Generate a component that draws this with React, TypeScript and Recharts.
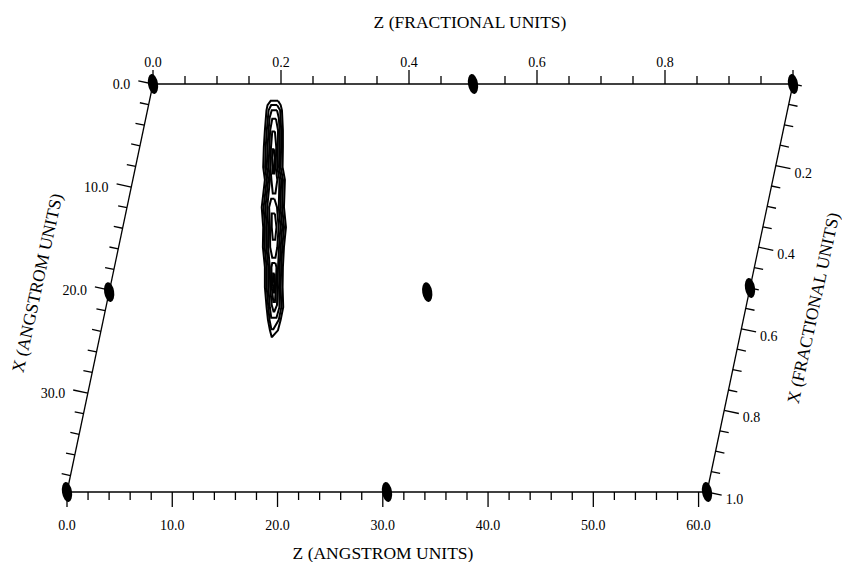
import React from 'react'
import { ScatterChart, Scatter, XAxis, YAxis } from 'recharts'

// cell geometry (angstrom)
const CELL_C = 60.8
const CELL_A = 39.6
const SKEW = 8.17
const VERT = 38.75

const zAngTicks = [0, 2, 4, 6, 8, 10, 12, 14, 16, 18, 20, 22, 24, 26, 28, 30, 32, 34, 36, 38, 40, 42, 44, 46, 48, 50, 52, 54, 56, 58, 60]
const zAngMajor = [0, 10, 20, 30, 40, 50, 60]
const zFracTicks = [0, 0.05, 0.1, 0.15, 0.2, 0.25, 0.3, 0.35, 0.4, 0.45, 0.5, 0.55, 0.6, 0.65, 0.7, 0.75, 0.8, 0.85, 0.9, 0.95, 1.0]
const zFracMajor = [0, 0.2, 0.4, 0.6, 0.8, 1.0]
const zFracLabels = ['0.0', '0.2', '0.4', '0.6', '0.8', '']
const xAngTicks = [0, 2, 4, 6, 8, 10, 12, 14, 16, 18, 20, 22, 24, 26, 28, 30, 32, 34, 36, 38]
const xAngMajor = [0, 10, 20, 30]
const xFracTicks = [0, 0.05, 0.1, 0.15, 0.2, 0.25, 0.3, 0.35, 0.4, 0.45, 0.5, 0.55, 0.6, 0.65, 0.7, 0.75, 0.8, 0.85, 0.9, 0.95, 1.0]
const xFracMajor = [0.2, 0.4, 0.6, 0.8, 1.0]

// atoms (fractional x, fractional z)
const atomX = [0, 0, 0, 0.51, 0.51, 0.5, 1, 1, 1]
const atomZ = [0, 0.5, 1, 0, 0.497, 1, 0, 0.5, 1]

// contour levels: [depth w, left u, right u] in map angstrom
const contour1: number[][] = [
  [1.6, 19.35, 20.05], [2.0, 19.05, 20.3], [2.5, 18.95, 20.42], [4.4, 18.8, 20.51],
  [6.0, 18.7, 20.51], [7.9, 18.64, 20.48], [9.1, 18.8, 20.7], [11.7, 18.5, 20.61],
  [13.6, 18.64, 20.8], [15.5, 18.61, 20.61], [17.4, 18.8, 20.51], [19.3, 18.8, 20.48],
  [21.2, 18.96, 20.54], [22.4, 19.09, 20.3], [23.4, 19.28, 20.04], [24.0, 19.44, 19.5],
]
const contour2: number[][] = [
  [2.0, 19.4, 19.95], [2.5, 19.15, 20.25], [4.4, 18.98, 20.35], [6.0, 18.88, 20.34],
  [7.9, 18.82, 20.3], [9.1, 18.97, 20.52], [11.7, 18.68, 20.44], [13.6, 18.8, 20.62],
  [15.5, 18.78, 20.45], [17.4, 18.96, 20.35], [19.3, 18.97, 20.3], [21.2, 19.12, 20.36],
  [22.4, 19.24, 20.12], [23.3, 19.42, 19.6],
]
const contour3: number[][] = [
  [2.5, 19.45, 19.95], [3.2, 19.25, 20.12], [4.4, 19.15, 20.2], [6.0, 19.05, 20.18],
  [7.9, 18.98, 20.14], [9.1, 19.12, 20.35], [11.7, 18.85, 20.28], [13.6, 18.96, 20.45],
  [15.5, 18.95, 20.3], [17.4, 19.12, 20.2], [19.3, 19.13, 20.14], [21.2, 19.27, 20.18],
  [22.2, 19.4, 19.9],
]
const contour4: number[][] = [
  [3.3, 19.5, 19.85], [4.4, 19.3, 20.05], [6.0, 19.22, 20.02], [7.9, 19.15, 19.98],
  [9.1, 19.28, 20.18], [11.7, 19.02, 20.12], [13.6, 19.12, 20.28], [15.5, 19.1, 20.14],
  [17.4, 19.27, 20.05], [19.3, 19.3, 19.98], [21.0, 19.45, 19.95], [21.6, 19.62, 19.7],
]
const contour5a: number[][] = [[4.5, 19.5, 19.75], [6.0, 19.38, 19.88], [7.9, 19.32, 19.82], [9.1, 19.42, 19.98], [10.4, 19.55, 19.8]]
const contour5b: number[][] = [[10.9, 19.4, 19.7], [11.7, 19.2, 19.95], [13.6, 19.28, 20.1], [15.5, 19.3, 19.98], [16.5, 19.5, 19.8]]
const contour5c: number[][] = [[17.0, 19.5, 19.8], [17.4, 19.42, 19.9], [19.3, 19.45, 19.85], [20.7, 19.6, 19.75]]
const contour6a: number[][] = [[6.2, 19.55, 19.7], [7.0, 19.48, 19.72], [8.5, 19.55, 19.68]]
const contour6b: number[][] = [[12.3, 19.45, 19.75], [13.6, 19.45, 19.9], [14.8, 19.55, 19.78]]
const contour6c: number[][] = [[18.0, 19.58, 19.72], [19.0, 19.56, 19.76], [19.8, 19.63, 19.7]]
const contours = [contour1, contour2, contour3, contour4, contour5a, contour5b, contour5c, contour6a, contour6b, contour6c]

const serif = "'Liberation Serif', 'Times New Roman', serif"

const toU = (xf: number, zf: number) => zf * CELL_C + (1 - xf) * SKEW
const toW = (xf: number) => xf * VERT

const ring = (rows: number[][]) => {
  const right = rows.map(([w, , r]) => ({ u: r, w }))
  const left = rows.slice().reverse().map(([w, l]) => ({ u: l, w }))
  return [...right, ...left, right[0]]
}

const frameTop = [{ zf: 0, w: 0 }, { zf: 1, w: 0 }]
const frameBottom = [{ u: toU(1, 0), w: VERT }, { u: toU(1, 1), w: VERT }]
const frameLeft = [{ u: toU(0, 0), w: 0 }, { u: toU(1, 0), w: VERT }]
const frameRight = [{ u: toU(0, 1), w: 0 }, { u: toU(1, 1), w: VERT }]

const leftTickData = xAngTicks.map((s) => ({ u: toU(s / CELL_A, 0), w: toW(s / CELL_A), s }))
const rightTickData = xFracTicks.map((f) => ({ u: toU(f, 1), w: toW(f), f }))
const atomData = atomX.map((x, i) => ({ u: toU(x, atomZ[i]), w: toW(x) }))

const titles = [
  { u: toU(0, 0.5), w: 0, text: 'Z (FRACTIONAL UNITS)', dx: -3, dy: -62, rot: 0 },
  { u: toU(1, 0.5), w: VERT, text: 'Z (ANGSTROM UNITS)', dx: -4, dy: 61, rot: 0 },
  { u: toU(0.5, 0), w: toW(0.5), text: 'X (ANGSTROM UNITS)', dx: -73, dy: -5, rot: -77.6 },
  { u: toU(0.5, 1), w: toW(0.5), text: 'X (FRACTIONAL UNITS)', dx: 63, dy: 20, rot: -77.8 },
]

const Empty = () => <g />

const BottomTick = (props: any) => {
  const { x, y, payload } = props
  const v = payload.value
  const major = zAngMajor.includes(v)
  return (
    <g>
      <line x1={x} y1={y} x2={x} y2={y + (major ? 15 : 8)} stroke="#000" strokeWidth={1.3} />
      {major && (
        <text x={x} y={y + 38} textAnchor="middle" fontFamily={serif} fontSize={14} fill="#000">
          {v.toFixed(1)}
        </text>
      )}
    </g>
  )
}

const TopTick = (props: any) => {
  const { x, y, payload } = props
  const idx = zFracMajor.findIndex((m) => Math.abs(m - payload.value) < 1e-6)
  const major = idx >= 0
  return (
    <g>
      <line x1={x} y1={y} x2={x} y2={y - (major ? 14 : 8)} stroke="#000" strokeWidth={1.3} />
      {major && zFracLabels[idx] && (
        <text x={x} y={y - 17} textAnchor="middle" fontFamily={serif} fontSize={14} fill="#000">
          {zFracLabels[idx]}
        </text>
      )}
    </g>
  )
}

const LeftTick = (props: any) => {
  const { cx, cy, payload } = props
  const major = xAngMajor.includes(payload.s)
  const len = major ? 15 : 9
  const ex = cx - len * 0.978
  const ey = cy - len * 0.206
  return (
    <g>
      <line x1={cx} y1={cy} x2={ex} y2={ey} stroke="#000" strokeWidth={1.3} />
      {major && (
        <text x={ex - 8} y={cy + 5} textAnchor="end" fontFamily={serif} fontSize={14} fill="#000">
          {payload.s.toFixed(1)}
        </text>
      )}
    </g>
  )
}

const RightTick = (props: any) => {
  const { cx, cy, payload } = props
  const major = xFracMajor.some((m) => Math.abs(m - payload.f) < 1e-6)
  const len = major ? 15 : 9
  const ex = cx + len * 0.978
  const ey = cy + len * 0.206
  return (
    <g>
      <line x1={cx} y1={cy} x2={ex} y2={ey} stroke="#000" strokeWidth={1.3} />
      {major && (
        <text x={ex + 4} y={ey + 9} textAnchor="start" fontFamily={serif} fontSize={14} fill="#000">
          {payload.f.toFixed(1)}
        </text>
      )}
    </g>
  )
}

const Atom = (props: any) => {
  const { cx, cy } = props
  return <ellipse cx={cx} cy={cy} rx={5} ry={10} fill="#000" transform={`rotate(-9 ${cx} ${cy})`} />
}

const Title = (props: any) => {
  const { cx, cy, payload } = props
  const x = cx + payload.dx
  const y = cy + payload.dy
  return (
    <text
      x={x}
      y={y}
      dy="0.35em"
      textAnchor="middle"
      fontFamily={serif}
      fontSize={17.5}
      fill="#000"
      transform={payload.rot ? `rotate(${payload.rot} ${x} ${y})` : undefined}
    >
      {payload.text}
    </text>
  )
}

const lineStyle = { stroke: '#000', strokeWidth: 1.3 }

export default function App() {
  return (
    <div style={{ position: 'absolute', left: 0, top: 0, width: 842, height: 562, background: '#fff' }}>
      <ScatterChart width={842} height={562} margin={{ top: 54, right: 49, bottom: 40, left: 67 }}>
        <XAxis
          xAxisId="b"
          dataKey="u"
          type="number"
          domain={[0, SKEW + CELL_C]}
          ticks={zAngTicks}
          interval={0}
          tick={BottomTick}
          tickSize={0}
          tickMargin={0}
          axisLine={false}
          tickLine={false}
        />
        <XAxis
          xAxisId="t"
          orientation="top"
          dataKey="zf"
          type="number"
          domain={[-SKEW / CELL_C, 1]}
          ticks={zFracTicks}
          interval={0}
          tick={TopTick}
          tickSize={0}
          tickMargin={0}
          axisLine={false}
          tickLine={false}
        />
        <YAxis dataKey="w" type="number" domain={[0, VERT]} reversed hide />

        <Scatter xAxisId="t" data={frameTop} line={lineStyle} lineType="joint" shape={Empty} isAnimationActive={false} />
        <Scatter xAxisId="b" data={frameBottom} line={lineStyle} lineType="joint" shape={Empty} isAnimationActive={false} />
        <Scatter xAxisId="b" data={frameLeft} line={lineStyle} lineType="joint" shape={Empty} isAnimationActive={false} />
        <Scatter xAxisId="b" data={frameRight} line={lineStyle} lineType="joint" shape={Empty} isAnimationActive={false} />

        <Scatter xAxisId="b" data={leftTickData} shape={LeftTick} isAnimationActive={false} />
        <Scatter xAxisId="b" data={rightTickData} shape={RightTick} isAnimationActive={false} />

        {contours.map((c, i) => (
          <Scatter
            key={i}
            xAxisId="b"
            data={ring(c)}
            line={{ stroke: '#000', strokeWidth: 2 }}
            lineType="joint"
            shape={Empty}
            isAnimationActive={false}
          />
        ))}

        <Scatter xAxisId="b" data={atomData} shape={Atom} isAnimationActive={false} />
        <Scatter xAxisId="b" data={titles} shape={Title} isAnimationActive={false} />
      </ScatterChart>
    </div>
  )
}
